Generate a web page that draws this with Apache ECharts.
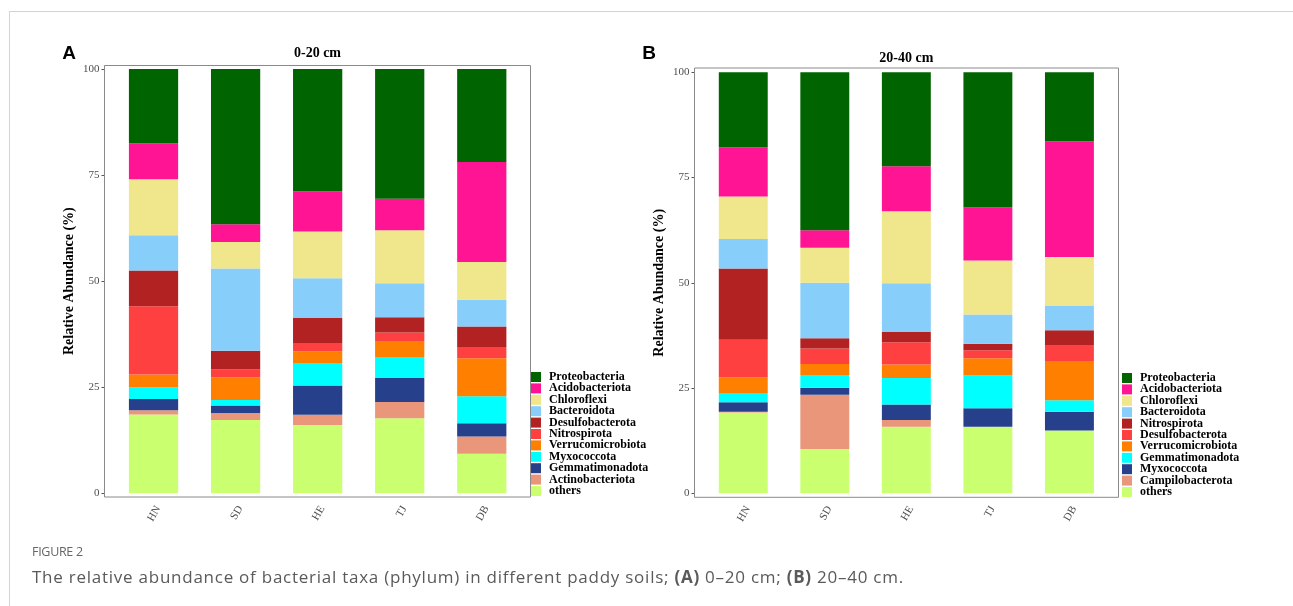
<!DOCTYPE html>
<html>
<head>
<meta charset="utf-8">
<script src="https://cdn.jsdelivr.net/npm/echarts@6/dist/echarts.min.js"></script>
<style>
  body { margin: 0; background: #fff; }
  .frame { position: absolute; left: 9px; top: 11px; width: 1300px; height: 700px; border: 1px solid #d4d4d4; }
  .chart { position: absolute; left: 0; top: 0; width: 1293px; height: 606px; }
  .fig { position: absolute; left: 32px; top: 543px; font-family: "Open Sans", sans-serif; font-size: 12.5px; color: #666; letter-spacing: -0.3px; }
  .cap { position: absolute; left: 32px; top: 565px; font-family: "Open Sans", sans-serif; font-size: 17px; color: #5a5a5a; letter-spacing: 0.75px; white-space: nowrap; }
</style>
</head>
<body>
<div class="frame"></div>
<div id="chartA" class="chart"></div>
<div id="chartB" class="chart"></div>
<div class="fig">FIGURE 2</div>
<div class="cap">The relative abundance of bacterial taxa (phylum) in different paddy soils; <b>(A)</b> 0–20 cm; <b>(B)</b> 20–40 cm.</div>
<script type="text/javascript">
// 采样点
var sites = ['HN', 'SD', 'HE', 'TJ', 'DB'];

// 颜色：从上到下
var colors = ['#006400', '#FF1493', '#F0E68C', '#87CEFA', '#B22222', '#FF4040',
              '#FF7F00', '#00FFFF', '#27408B', '#E9967A', '#CAFF70'];

// 0-20 cm，门名称从上到下
var namesA = ['Proteobacteria', 'Acidobacteriota', 'Chloroflexi', 'Bacteroidota', 'Desulfobacterota',
              'Nitrospirota', 'Verrucomicrobiota', 'Myxococcota', 'Gemmatimonadota', 'Actinobacteriota', 'others'];
var proteoA   = [17.5, 36.6, 28.8, 30.6, 21.9];
var acidoA    = [8.5, 4.2, 9.5, 7.4, 23.6];
var chloroA   = [13.2, 6.2, 11.0, 12.5, 8.9];
var bacteroA  = [8.3, 19.4, 9.4, 8.0, 6.3];
var desulfoA  = [8.4, 4.4, 5.9, 3.6, 4.8];
var nitroA    = [16.1, 1.9, 2.0, 2.0, 2.7];
var verrucoA  = [3.0, 5.3, 2.7, 3.8, 8.9];
var myxoA     = [2.8, 1.3, 5.3, 4.9, 6.4];
var gemmaA    = [2.6, 1.8, 6.9, 5.7, 3.1];
var actinoA   = [1.0, 1.6, 2.4, 3.8, 4.1];
var othersA   = [18.6, 17.3, 16.1, 17.7, 9.3];

// 20-40 cm
var namesB = ['Proteobacteria', 'Acidobacteriota', 'Chloroflexi', 'Bacteroidota', 'Nitrospirota',
              'Desulfobacterota', 'Verrucomicrobiota', 'Gemmatimonadota', 'Myxococcota', 'Campilobacterota', 'others'];
var proteoB   = [17.8, 37.5, 22.3, 32.1, 16.4];
var acidoB    = [11.7, 4.2, 10.7, 12.6, 27.5];
var chloroB   = [10.1, 8.3, 17.1, 12.8, 11.5];
var bacteroB  = [7.0, 13.2, 11.6, 7.0, 5.9];
var nitroB    = [16.9, 2.4, 2.4, 1.5, 3.5];
var desulfoB  = [9.0, 3.7, 5.3, 1.9, 3.8];
var verrucoB  = [3.7, 2.6, 3.2, 4.1, 9.3];
var gemmaB    = [2.2, 3.0, 6.3, 7.8, 2.7];
var myxoB     = [2.2, 1.7, 3.7, 4.4, 4.5];
var campiloB  = [0.2, 12.9, 1.6, 0, 0];
var othersB   = [19.2, 10.5, 15.8, 15.8, 14.9];

var valuesA = [proteoA, acidoA, chloroA, bacteroA, desulfoA, nitroA, verrucoA, myxoA, gemmaA, actinoA, othersA];
var valuesB = [proteoB, acidoB, chloroB, bacteroB, nitroB, desulfoB, verrucoB, gemmaB, myxoB, campiloB, othersB];

var serif = 'Liberation Serif';

function makeOption(p, names, values) {
	var series = [];
	// 堆叠从下往上，所以倒序
	for (var i = names.length - 1; i >= 0; i--) {
		series.push({
			name : names[i],
			type : 'bar',
			stack : 'all',
			barWidth : '60%',
			itemStyle : { color : colors[i] },
			data : values[i]
		});
	}
	return {
		animation : false,
		grid : { left : p.gridLeft, top : p.gridTop, width : p.gridWidth, height : p.gridHeight },
		legend : {
			orient : 'vertical',
			left : p.legendLeft,
			top : p.legendTop,
			padding : 0,
			itemWidth : 10,
			itemHeight : 10,
			itemGap : -0.6,
			icon : 'rect',
			data : names,
			textStyle : { fontFamily : serif, fontWeight : 'bold', fontSize : 12, color : '#000', padding : [0, 0, 0, 3] }
		},
		xAxis : {
			type : 'category',
			data : sites,
			offset : p.xOffset,
			axisLine : { show : false },
			axisTick : { alignWithLabel : true, length : 3, lineStyle : { color : '#555' } },
			axisLabel : { rotate : 60, verticalAlign : 'top', fontFamily : serif, fontSize : 11, color : '#4d4d4d', margin : 7 }
		},
		yAxis : {
			type : 'value',
			min : 0,
			max : 100,
			interval : 25,
			offset : p.yOffset,
			name : 'Relative Abundance (%)',
			nameLocation : 'middle',
			nameGap : 28,
			nameTextStyle : { fontFamily : serif, fontWeight : 'bold', fontSize : 14, color : '#000' },
			splitLine : { show : false },
			axisLine : { show : false },
			axisTick : { show : true, length : 3, lineStyle : { color : '#555' } },
			axisLabel : { fontFamily : serif, fontSize : 11, color : '#4d4d4d', margin : 5 }
		},
		graphic : [
			{ type : 'rect', shape : p.box, style : { fill : 'none', stroke : '#8a8a8a', lineWidth : 1 }, z : 10 },
			{ type : 'text', x : p.letter[0], y : p.letter[1], style : { text : p.letterText, font : 'bold 19px "Liberation Sans"', fill : '#000', align : 'center', verticalAlign : 'middle' } },
			{ type : 'text', x : p.title[0], y : p.title[1], style : { text : p.titleText, font : 'bold 14px "Liberation Serif"', fill : '#000', align : 'center', verticalAlign : 'middle' } }
		],
		series : series
	};
}

var chartA = echarts.init(document.getElementById('chartA'));
chartA.setOption(makeOption({
	gridLeft : 112.5, gridTop : 69, gridWidth : 410.3, gridHeight : 424.3,
	xOffset : 3.7, yOffset : 8,
	box : { x : 104.5, y : 65.5, width : 426, height : 431.5 },
	letter : [69, 54], letterText : 'A',
	title : [317.5, 53], titleText : '0-20 cm',
	legendLeft : 531, legendTop : 371
}, namesA, valuesA));

var chartB = echarts.init(document.getElementById('chartB'));
chartB.setOption(makeOption({
	gridLeft : 702.5, gridTop : 72.3, gridWidth : 407.7, gridHeight : 421,
	xOffset : 4, yOffset : 8,
	box : { x : 694.5, y : 68, width : 424, height : 429.3 },
	letter : [649, 54], letterText : 'B',
	title : [906.3, 58], titleText : '20-40 cm',
	legendLeft : 1122, legendTop : 372
}, namesB, valuesB));
</script>
</body>
</html>
